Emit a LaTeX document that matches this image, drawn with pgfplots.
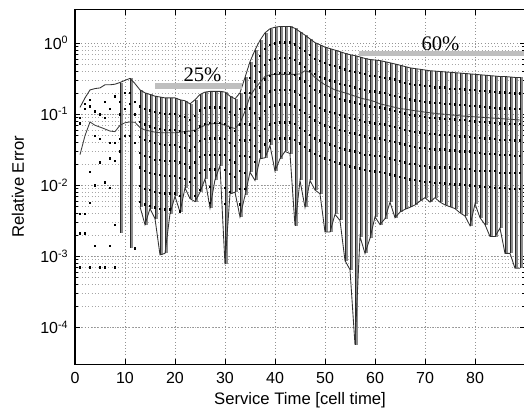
\documentclass[border=0pt]{standalone}
\usepackage{pgfplots}
\pgfplotsset{compat=1.18}
\usepackage{pgfplotstable}
\usepackage{fontspec}
\setmainfont{Liberation Sans}
\newfontfamily\timesfont{Liberation Serif}

\pgfplotstableread{
x hi mean lo
1 0.125 0.027 nan
2 0.17 0.05 nan
3 0.22 0.078 nan
4 0.23 0.07 nan
5 0.235 0.066 nan
6 0.26 0.062 nan
7 0.26 0.058 nan
8 0.265 0.057 nan
9 0.28 0.07 0.0021
10 0.30 0.076 nan
11 0.32 0.078 0.0013
12 0.27 0.077 nan
13 0.22 0.065 0.005
14 0.20 0.06 0.0028
15 0.19 0.058 0.0047
16 0.18 0.056 0.0034
17 0.175 0.055 0.00105
18 0.17 0.055 0.0011
19 0.17 0.055 0.004
20 0.17 0.055 0.007
21 0.16 0.056 0.0042
22 0.155 0.057 0.0092
23 0.14 0.058 0.0065
24 0.16 0.06 0.0059
25 0.19 0.065 0.008
26 0.205 0.07 0.0123
27 0.21 0.073 0.0048
28 0.21 0.074 0.012
29 0.21 0.074 0.019
30 0.205 0.07 0.00077
31 0.18 0.066 0.0076
32 0.165 0.063 0.008
33 0.2 0.075 0.0036
34 0.33 0.11 0.0072
35 0.55 0.18 0.0153
36 0.8 0.23 0.0117
37 1.1 0.28 0.0237
38 1.4 0.34 0.0244
39 1.6 0.36 0.0365
40 1.68 0.365 0.0158
41 1.72 0.365 0.0237
42 1.72 0.365 0.030
43 1.72 0.365 0.028
44 1.62 0.365 0.0027
45 1.45 0.37 0.0117
46 1.3 0.41 0.0049
47 1.15 0.39 0.0117
48 1.02 0.33 0.0086
49 0.95 0.29 0.0076
50 0.88 0.26 0.0022
51 0.84 0.24 0.0022
52 0.8 0.22 0.0039
53 0.76 0.21 0.0032
54 0.72 0.2 0.00087
55 0.69 0.19 0.00065
56 0.67 0.18 0.000057
57 0.64 0.17 0.0019
58 0.61 0.163 0.0011
59 0.59 0.158 0.0018
60 0.58 0.15 0.0036
61 0.57 0.14 0.0028
62 0.55 0.135 0.0034
63 0.53 0.13 0.0058
64 0.51 0.125 0.0035
65 0.49 0.12 0.0042
66 0.47 0.118 0.0046
67 0.45 0.115 0.0049
68 0.44 0.112 0.0053
69 0.43 0.11 0.006
70 0.42 0.107 0.0067
71 0.41 0.105 0.0058
72 0.405 0.103 0.0067
73 0.40 0.101 0.0058
74 0.395 0.1 0.0053
75 0.39 0.098 0.005
76 0.385 0.097 0.0047
77 0.38 0.095 0.0041
78 0.375 0.094 0.0037
79 0.37 0.093 0.0027
80 0.365 0.092 0.0055
81 0.36 0.091 0.0035
82 0.355 0.09 0.0028
83 0.35 0.089 0.0019
84 0.345 0.088 0.0019
85 0.34 0.087 0.0025
86 0.34 0.086 0.0011
87 0.335 0.085 0.0011
88 0.33 0.084 0.00068
89 0.33 0.083 0.00068
}\maintab

\pgfplotstableread{
x a b c d e f g
13 0.13 0.079 0.048 0.029 0.018 0.0099 0.0059
14 0.12 0.072 0.044 0.026 0.016 0.009 0.0054
15 0.114 0.068 0.042 0.025 0.015 0.0086 0.0051
16 0.108 0.065 0.040 0.023 0.0144 0.0081 0.0049
17 0.105 0.063 0.0385 0.0228 0.014 0.0079 0.0047
18 0.102 0.061 0.037 0.022 0.0136 0.0077 0.0046
19 0.102 0.061 0.037 0.022 0.0136 0.0077 0.0046
20 0.102 0.061 0.037 0.022 0.0136 0.0077 nan
21 0.096 0.058 0.035 0.021 0.0128 0.0072 0.0043
22 0.093 0.056 0.034 0.020 0.0124 nan nan
23 0.084 0.050 0.031 0.018 0.0112 nan nan
24 0.096 0.058 0.035 0.021 0.0128 0.0072 nan
25 0.114 0.068 0.042 0.025 0.015 0.0086 nan
26 0.123 0.074 0.045 0.027 0.0164 nan nan
27 0.126 0.076 0.046 0.027 0.0168 0.0095 0.0057
28 0.126 0.076 0.046 0.027 0.0168 nan nan
29 0.126 0.076 0.046 0.027 nan nan nan
30 0.123 0.074 0.045 0.027 0.0164 0.0092 0.0055
31 0.108 0.065 0.040 0.023 0.0144 0.0081 nan
32 0.099 0.059 0.036 0.021 0.0132 nan nan
33 0.12 0.072 0.044 0.026 0.016 0.009 0.0054
34 0.2 0.119 0.073 0.043 0.026 0.0149 0.0089
35 0.33 0.2 0.121 0.072 0.044 0.025 nan
36 0.48 0.29 0.176 0.104 0.064 0.036 0.0216
37 0.66 0.40 0.24 0.143 0.088 0.05 0.03
38 0.84 0.5 0.31 0.18 0.112 0.063 0.038
39 0.96 0.58 0.35 0.21 0.128 0.072 0.043
40 1.0 0.6 0.37 0.22 0.134 0.076 0.045
41 1.03 0.62 0.38 0.22 0.138 0.077 0.046
42 1.03 0.62 0.38 0.22 0.138 0.077 0.046
43 1.03 0.62 0.38 0.22 0.138 0.077 0.046
44 0.97 0.58 0.36 0.21 0.13 0.073 0.044
45 0.87 0.52 0.32 0.19 0.116 0.065 0.039
46 0.78 0.47 0.29 0.17 0.104 0.059 0.035
47 0.69 0.41 0.25 0.15 0.092 0.052 0.031
48 0.61 0.37 0.22 0.133 0.082 0.046 0.028
49 0.57 0.34 0.21 0.124 0.076 0.043 0.026
50 0.53 0.32 0.19 0.114 0.07 0.04 0.024
51 0.5 0.3 0.185 0.109 0.067 0.038 0.023
52 0.48 0.29 0.176 0.104 0.064 0.036 0.0216
53 0.46 0.27 0.167 0.099 0.061 0.034 0.0205
54 0.43 0.26 0.158 0.094 0.058 0.032 0.0194
55 0.41 0.25 0.152 0.09 0.055 0.031 0.0186
56 0.4 0.24 0.147 0.087 0.054 0.03 0.018
57 0.38 0.23 0.141 0.083 0.051 0.029 0.0173
58 0.37 0.22 0.134 0.079 0.049 0.027 0.0165
59 0.35 0.21 0.13 0.077 0.047 0.027 0.0159
60 0.35 0.21 0.128 0.075 0.046 0.026 0.0157
61 0.34 0.205 0.125 0.074 0.046 0.026 0.0154
62 0.33 0.2 0.121 0.072 0.044 0.025 0.0149
63 0.32 0.19 0.117 0.069 0.042 0.024 0.0143
64 0.31 0.184 0.112 0.066 0.041 0.023 0.0138
65 0.29 0.176 0.108 0.064 0.039 0.022 0.0132
66 0.28 0.169 0.103 0.061 0.038 0.021 0.0127
67 0.27 0.162 0.099 0.059 0.036 0.02 0.0122
68 0.26 0.158 0.097 0.057 0.035 0.02 0.0119
69 0.26 0.155 0.095 0.056 0.034 0.019 0.0116
70 0.25 0.151 0.092 0.055 0.034 0.019 0.0113
71 0.25 0.148 0.09 0.053 0.033 0.018 0.0111
72 0.24 0.146 0.089 0.053 0.032 0.018 0.0109
73 0.24 0.144 0.088 0.052 0.032 0.018 0.0108
74 0.24 0.142 0.087 0.051 0.032 0.018 0.0107
75 0.23 0.14 0.086 0.051 0.031 0.018 0.0105
76 0.23 0.139 0.085 0.05 0.031 0.017 0.0104
77 0.23 0.137 0.084 0.049 0.03 0.017 0.0103
78 0.225 0.135 0.083 0.049 0.03 0.017 0.0101
79 0.22 0.133 0.081 0.048 0.03 0.017 0.01
80 0.22 0.131 0.08 0.047 0.029 0.016 0.0099
81 0.216 0.13 0.079 0.047 0.029 0.016 0.0097
82 0.213 0.128 0.078 0.046 0.028 0.016 0.0096
83 0.21 0.126 0.077 0.046 0.028 0.016 0.0095
84 0.207 0.124 0.076 0.045 0.028 0.016 0.0093
85 0.204 0.122 0.075 0.044 0.027 0.015 0.0092
86 0.204 0.122 0.075 0.044 0.027 0.015 0.0092
87 0.201 0.121 0.074 0.044 0.027 0.015 0.009
88 0.198 0.119 0.073 0.043 0.026 0.015 0.0089
89 0.198 0.119 0.073 0.043 0.026 0.015 0.0089
}\dottab

\begin{document}
\begin{tikzpicture}
\path[use as bounding box] (-56.25pt,-37.1pt) rectangle (336.75pt,273.4pt);
\begin{axis}[
  at={(0,0)}, anchor=south west,
  scale only axis, width=337.5pt, height=266.4pt,
  xmin=0, xmax=90, ymode=log, ymin=3e-5, ymax=3,
  xtick={0,10,20,30,40,50,60,70,80},
  ytick={1e-4,1e-3,1e-2,1e-1,1},
  yticklabels={10\textsuperscript{-4},10\textsuperscript{-3},10\textsuperscript{-2},10\textsuperscript{-1},10\textsuperscript{0}},
  /pgf/number format/assume math mode=true,
  xmajorgrids, ymajorgrids, yminorgrids,
  grid style={dotted, gray!85, line width=0.5pt},
  minor grid style={dotted, gray!70, line width=0.5pt},
  tick align=inside, major tick length=4pt, minor tick length=2.2pt,
  tick style={black, line width=0.5pt},
  axis line style={black, line width=0.8pt},
  tick label style={font=\fontsize{12}{14}\selectfont},
  label style={font=\fontsize{12.5}{14}\selectfont},
  xticklabel style={yshift=-2pt},
  yticklabel style={xshift=-1.5pt},
  xlabel={Service Time [cell time]},
  ylabel={Relative Error},
  xlabel style={at={(axis description cs:0.5,-0.1)}, anchor=center},
  ylabel style={at={(axis description cs:-0.1267,0.5)}, anchor=center},
  unbounded coords=jump,
  clip=true,
]
% gray vertical ranges
\addplot[draw=none, mark=none, forget plot,
  skip coords between index={0}{8}, skip coords between index={9}{10}, skip coords between index={11}{12},
  error bars/.cd, y dir=minus, y explicit, error mark=none,
  error bar style={draw=black!45, line width=0.9pt}]
  table[x expr=\thisrow{x}+0.4, y=hi, y error minus expr=\thisrow{hi}-\thisrow{lo}] {\maintab};
% black vertical ranges
\addplot[draw=none, mark=none, forget plot,
  skip coords between index={0}{8}, skip coords between index={9}{10}, skip coords between index={11}{12},
  error bars/.cd, y dir=minus, y explicit, error mark=none,
  error bar style={draw=black!85, line width=0.4pt}]
  table[x=x, y=hi, y error minus expr=\thisrow{hi}-\thisrow{lo}] {\maintab};
% dots
\addplot[only marks, mark=square*, mark size=0.5pt, black, forget plot] table[x=x,y=a]{\dottab};
\addplot[only marks, mark=square*, mark size=0.5pt, black, forget plot] table[x=x,y=b]{\dottab};
\addplot[only marks, mark=square*, mark size=0.5pt, black, forget plot] table[x=x,y=c]{\dottab};
\addplot[only marks, mark=square*, mark size=0.5pt, black, forget plot] table[x=x,y=d]{\dottab};
\addplot[only marks, mark=square*, mark size=0.5pt, black, forget plot] table[x=x,y=e]{\dottab};
\addplot[only marks, mark=square*, mark size=0.5pt, black, forget plot] table[x=x,y=f]{\dottab};
\addplot[only marks, mark=square*, mark size=0.5pt, black, forget plot] table[x=x,y=g]{\dottab};
\addplot[only marks, mark=square*, mark size=0.55pt, black, forget plot] coordinates {
(1,0.09) (1,0.075) (1,0.004) (1,0.0021) (1,0.0007)
(2,0.14) (2,0.12) (2,0.004) (2,0.0021)
(3,0.16) (3,0.13) (3,0.0156) (3,0.0057) (3,0.0007)
(4,0.11) (4,0.05) (4,0.01) (4,0.0014)
(5,0.1) (5,0.045) (5,0.021) (5,0.0007)
(6,0.15) (6,0.09) (6,0.011) (6,0.0007)
(7,0.12) (7,0.04) (7,0.024) (7,0.0093) (7,0.0014)
(8,0.18) (8,0.04) (8,0.022) (8,0.0028) (8,0.0007)
(9,0.15) (9,0.1) (9,0.045) (9,0.03)
(10,0.2) (10,0.12) (10,0.05)
(11,0.2) (11,0.14) (11,0.05)
(12,0.15) (12,0.1) (12,0.04) (12,0.0013)
};
% envelopes
\addplot[black!80, line width=0.65pt, mark=none] table[x=x,y=hi]{\maintab};
\addplot[black!75, line width=0.65pt, mark=none] table[x=x,y=mean]{\maintab};
\addplot[black!80, line width=0.65pt, mark=none] table[x=x,y=lo]{\maintab};
% shaded bars
\addplot[black!25, line width=3.8pt, mark=none, forget plot] coordinates {(16,0.25) (33.3,0.25)};
\addplot[black!25, line width=3.8pt, mark=none, forget plot] coordinates {(56.7,0.72) (90,0.72)};
\node[font=\timesfont\fontsize{15.5}{17}\selectfont, anchor=base, inner sep=0pt] at (axis cs:25.5,0.286) {25\%};
\node[font=\timesfont\fontsize{15.5}{17}\selectfont, anchor=base, inner sep=0pt] at (axis cs:73.1,0.80) {60\%};
\end{axis}
\end{tikzpicture}
\end{document}
